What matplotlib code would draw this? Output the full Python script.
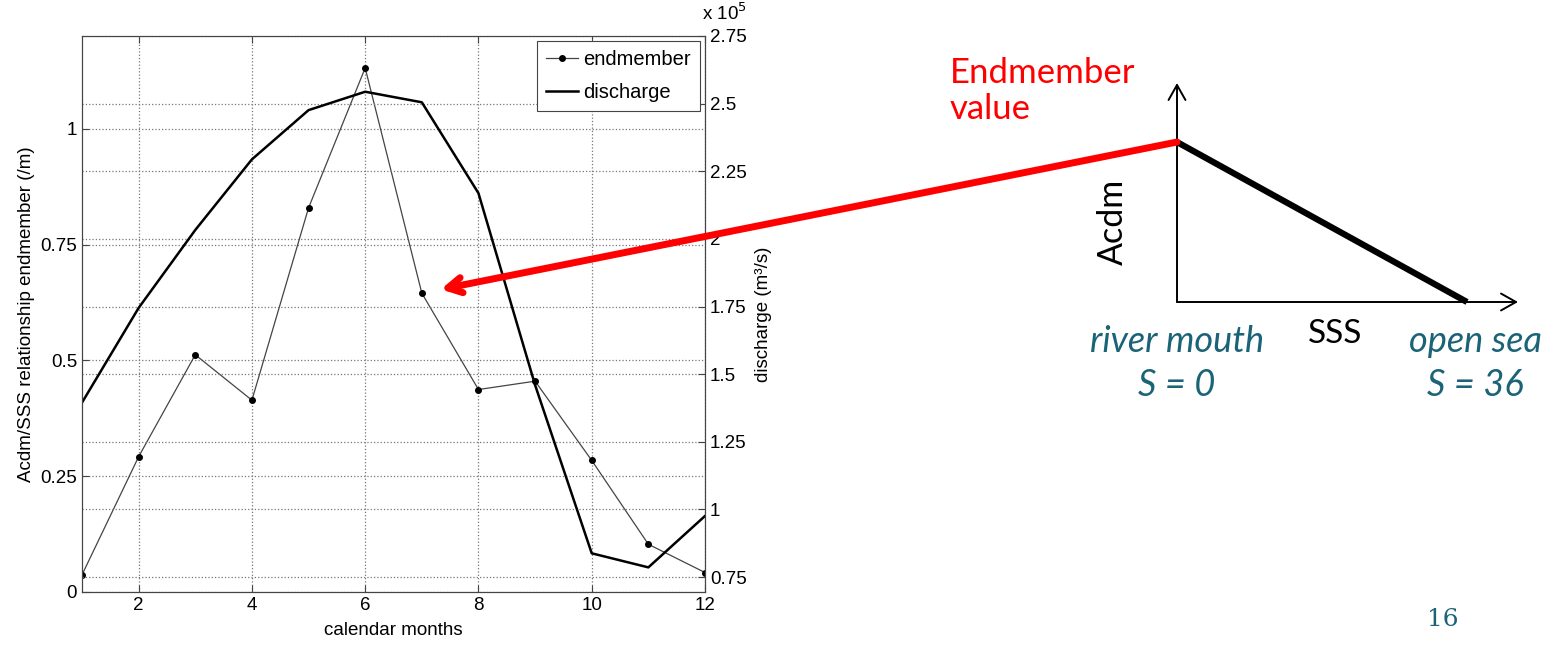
import matplotlib
matplotlib.use("Agg")
import matplotlib.pyplot as plt
from matplotlib.patches import ConnectionPatch
from matplotlib.ticker import FuncFormatter

# monthly values
months = [1, 2, 3, 4, 5, 6, 7, 8, 9, 10, 11, 12]
endmember = [0.037, 0.292, 0.512, 0.414, 0.829, 1.131, 0.645, 0.437, 0.455, 0.284, 0.103, 0.042]
discharge = [139500, 174500, 203300, 229400, 247600, 254400, 250500, 216900, 146000, 83800, 78600, 97600]

left_ticks = [0, 0.25, 0.5, 0.75, 1]
right_ticks = [0.75e5, 1e5, 1.25e5, 1.5e5, 1.75e5, 2e5, 2.25e5, 2.5e5, 2.75e5]

teal = "#1b6377"

plt.rcParams["font.family"] = ["Liberation Sans", "DejaVu Sans"]
plt.rcParams["font.size"] = 13.5

fig = plt.figure(figsize=(15.45, 6.45), dpi=100)
ax = fig.add_axes([82 / 1545, 1 - 592 / 645, (705 - 82) / 1545, (592 - 36) / 645])
ax2 = ax.twinx()

l1, = ax.plot(months, endmember, "-", color="#444444", lw=0.9, marker="o", ms=4,
              mfc="black", mec="black", label="endmember")
l2, = ax2.plot(months, discharge, "-", color="black", lw=1.8, label="discharge")

ax.set_xlim(1, 12)
ax.set_ylim(0, 1.2)
ax.set_xticks([2, 4, 6, 8, 10, 12])
ax.set_yticks(left_ticks)
ax.set_yticklabels(["0", "0.25", "0.5", "0.75", "1"])
ax2.set_ylim(0.695e5, 2.75e5)
ax2.set_yticks(right_ticks)
ax2.yaxis.set_major_formatter(FuncFormatter(lambda v, p: f"{v / 1e5:g}"))

for a in (ax, ax2):
    a.grid(True, linestyle=":", color="#777777", lw=0.9)
    a.tick_params(direction="in", length=5, width=0.8, color="#444444")
    for s in a.spines.values():
        s.set_color("#444444")
ax.tick_params(top=True)

ax.set_xlabel("calendar months", labelpad=6)
ax.set_ylabel("Acdm/SSS relationship endmember (/m)", labelpad=4)
ax2.set_ylabel("discharge (m³/s)", labelpad=6)
ax2.text(0.995, 1.022, r"x 10$^5$", transform=ax2.transAxes, ha="left", va="bottom",
         fontsize=13.5)

leg = ax2.legend(handles=[l1, l2], loc="upper right", fancybox=False, framealpha=1,
                 edgecolor="#444444", borderaxespad=0.25, handlelength=1.6,
                 handletextpad=0.25, borderpad=0.45, labelspacing=0.7, fontsize=14.5)
leg.get_frame().set_linewidth(0.8)

# schematic on the right: Acdm against salinity
ax3 = fig.add_axes([1177 / 1545, 1 - 302 / 645, (1518 - 1177) / 1545, (302 - 83) / 645])
ax3.set_xlim(0, 42.33)
ax3.set_ylim(0, 1.369)
ax3.axis("off")
ax3.annotate("", xy=(42.33, 0), xytext=(0, 0),
             arrowprops=dict(arrowstyle="->,head_length=0.8,head_width=0.45", lw=1.4, color="black",
                             shrinkA=0, shrinkB=0), annotation_clip=False)
ax3.annotate("", xy=(0, 1.369), xytext=(0, 0),
             arrowprops=dict(arrowstyle="->,head_length=0.8,head_width=0.45", lw=1.4, color="black",
                             shrinkA=0, shrinkB=0), annotation_clip=False)
ax3.plot([0, 36], [1, 0], color="black", lw=4.5, solid_capstyle="butt", clip_on=False)

side_font = ["Lato", "DejaVu Sans"]
ax3.text(-7.9, 0.5, "Acdm", rotation=90, ha="center", va="center", fontsize=24.5, family=side_font)
ax3.text(19.6, -0.2, "SSS", ha="center", va="center", fontsize=24, family=side_font)
ax3.text(0, -0.25, "river mouth", ha="center", va="center", fontsize=26, style="italic",
         color=teal, family=side_font)
ax3.text(0, -0.52, "S = 0", ha="center", va="center", fontsize=26, style="italic",
         color=teal, family=side_font)
ax3.text(37, -0.25, "open sea", ha="center", va="center", fontsize=26, style="italic",
         color=teal, family=side_font)
ax3.text(37, -0.52, "S = 36", ha="center", va="center", fontsize=26, style="italic",
         color=teal, family=side_font)

fig.text(950 / 1545, 1 - 91 / 645, "Endmember\nvalue", ha="left", va="center", color="red",
         fontsize=25, family=side_font, linespacing=1.15)

con = ConnectionPatch(xyA=(0, 1), coordsA=ax3.transData, xyB=(7, endmember[6]), coordsB=ax.transData,
                      arrowstyle="->,head_length=1.0,head_width=0.55", color="red", lw=5,
                      shrinkA=0, shrinkB=14)
fig.add_artist(con)

fig.text(1443 / 1545, 1 - 620 / 645, "16", ha="center", va="center", color=teal, fontsize=18,
         family=["DejaVu Serif"])

fig.savefig("out.png", dpi=100)
